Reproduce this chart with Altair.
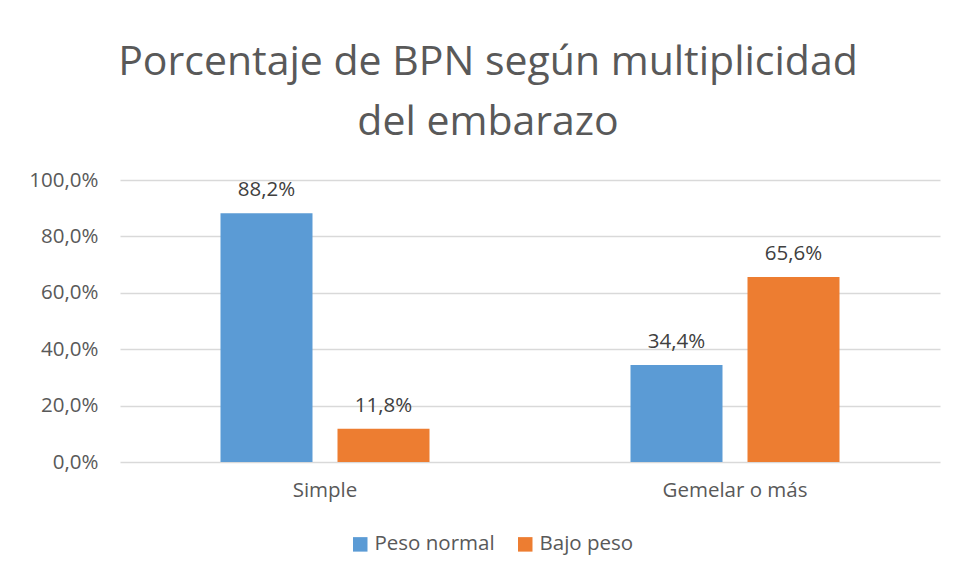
import altair as alt
import pandas as pd

categories = ["Simple", "Simple", "Gemelar o más", "Gemelar o más"]
series = ["Peso normal", "Bajo peso", "Peso normal", "Bajo peso"]
values = [88.2, 11.8, 34.4, 65.6]

cat_order = ["Simple", "Gemelar o más"]
ser_order = ["Peso normal", "Bajo peso"]
colors = ["#5b9bd5", "#ed7d31"]
y_ticks = [0, 20, 40, 60, 80, 100]

df = pd.DataFrame({"cat": categories, "serie": series, "valor": values})

FONT = "Open Sans"
GREY = "#595959"
FS = 20.5

x = alt.X("cat:N", sort=cat_order, title=None,
          scale=alt.Scale(paddingInner=0, paddingOuter=0),
          axis=alt.Axis(labelAngle=0, ticks=False, domain=False, grid=False, labelFontSize=FS,
                        labelColor=GREY, labelFont=FONT, labelPadding=18))
xo = alt.XOffset("serie:N", sort=ser_order,
                 scale=alt.Scale(paddingInner=0.2137, paddingOuter=0.859))
y = alt.Y("valor:Q", title=None,
          scale=alt.Scale(domain=[0, 100], nice=False),
          axis=alt.Axis(values=y_ticks, ticks=False, domain=False, labelFontSize=FS,
                        labelColor=GREY, labelFont=FONT, labelPadding=22,
                        gridColor="#d9d9d9", gridWidth=1.3,
                        labelExpr="replace(format(datum.value, '.1f'), '.', ',') + '%'"))

bars = alt.Chart(df).mark_bar().encode(
    x=x, xOffset=xo, y=y,
    color=alt.Color("serie:N", sort=ser_order,
                    scale=alt.Scale(domain=ser_order, range=colors),
                    legend=alt.Legend(title=None, orient="none", direction="horizontal",
                                      legendX=230, legendY=354, symbolType="square",
                                      symbolSize=210, labelFontSize=FS, labelColor=GREY,
                                      labelFont=FONT, columnPadding=20, labelOffset=4,
                                      symbolStrokeWidth=0)),
)

labels = alt.Chart(df).transform_calculate(
    lab="replace(format(datum.valor, '.1f'), '.', ',') + '%'"
).mark_text(baseline="bottom", dy=-13, fontSize=FS, font=FONT, color="#404040").encode(
    x=x, xOffset=xo, y=y, text="lab:N"
)

chart = alt.layer(bars, labels).properties(
    width=820, height=282,
    background="white",
    title=alt.TitleParams(
        text=["Porcentaje de BPN según multiplicidad", "del embarazo"],
        fontSize=41, font=FONT, fontWeight="normal", color=GREY,
        anchor="middle", dx=-42, lineHeight=60, offset=26,
    ),
    padding={"left": 112, "top": 172, "right": 10, "bottom": 100},
    autosize=alt.AutoSizeParams(type="none"),
).configure_view(stroke=None)

chart.save("out.html", embed_options={"renderer": "svg", "actions": False})
